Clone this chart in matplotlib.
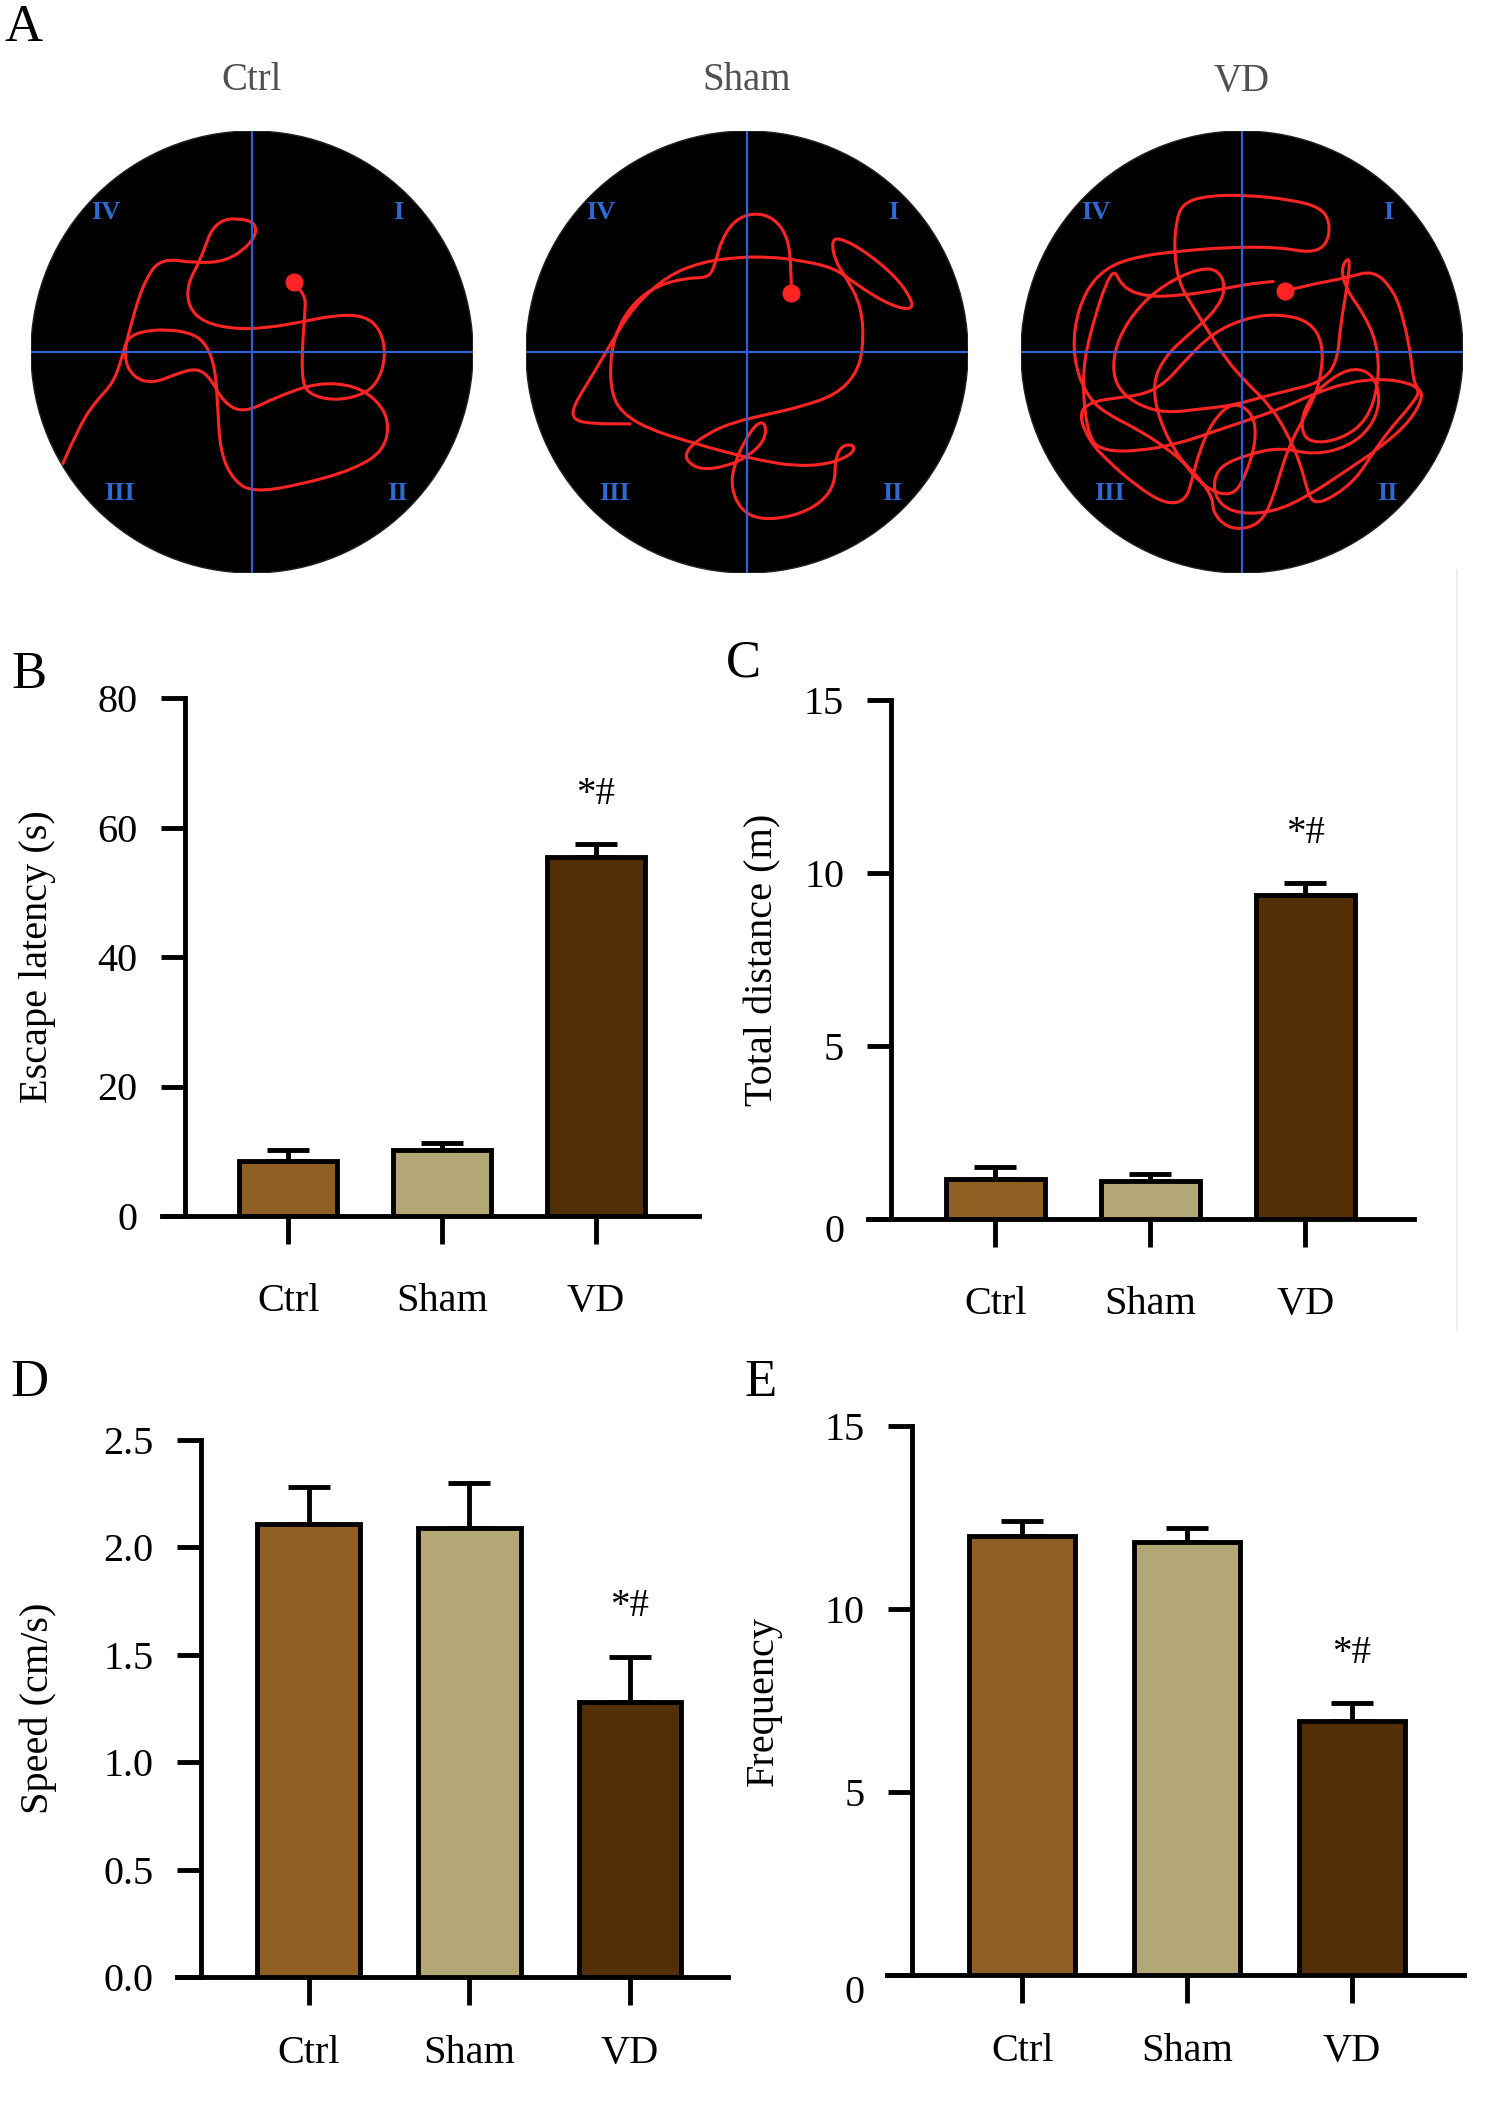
import matplotlib
matplotlib.use('Agg')
import matplotlib.pyplot as plt
from matplotlib.patches import Ellipse, PathPatch
from matplotlib.path import Path
import matplotlib.transforms as mtransforms
import numpy as np

plt.rcParams['font.family'] = ['Liberation Serif', 'DejaVu Serif']

W, H = 1499, 2106
fig = plt.figure(figsize=(W / 100, H / 100), dpi=100)

# ---------------- data ----------------
groups = ['Ctrl', 'Sham', 'VD']
bar_colors = ['#8E5E22', '#B3A775', '#542E07']

escape_mean = [8.5, 10.2, 55.5]
escape_err = [1.7, 1.0, 1.9]
distance_mean = [1.17, 1.10, 9.35]
distance_err = [0.33, 0.20, 0.36]
speed_mean = [2.11, 2.09, 1.28]
speed_err = [0.17, 0.21, 0.21]
freq_mean = [12.0, 11.84, 6.93]
freq_err = [0.40, 0.36, 0.50]
sig_label = '*#'

quadrants = ['IV', 'I', 'III', 'II']

# tracking trajectories in camera pixel coordinates (x, y), y downward
arena_ctrl = (755, 918, 660, 578)
track_ctrl = [(190, 1210), (240, 1110), (290, 1045), (340, 1000), (368, 930), (380, 885), (420, 865),
              (500, 858), (580, 870), (620, 900), (645, 960), (652, 1050), (660, 1180), (700, 1255),
              (760, 1285), (900, 1265), (1060, 1225), (1150, 1175), (1165, 1100), (1130, 1045),
              (1060, 1005), (950, 998), (830, 1035), (730, 1078), (670, 1050), (630, 985), (590, 960),
              (530, 975), (460, 1000), (400, 985), (370, 930), (395, 840), (430, 740), (480, 672),
              (590, 686), (680, 680), (745, 640), (772, 600), (750, 570), (645, 570), (600, 680),
              (562, 740), (565, 800), (610, 840), (700, 858), (800, 855), (900, 840), (1000, 822),
              (1090, 822), (1140, 860), (1155, 930), (1130, 1000), (1080, 1032), (1000, 1045),
              (930, 1030), (905, 1000), (905, 900), (915, 800), (912, 770), (880, 735)]

arena_sham = (738, 918, 658, 575)
track_sham = [(870, 765), (870, 700), (860, 620), (820, 570), (760, 555), (700, 575), (660, 630),
              (640, 700), (620, 725), (560, 725), (470, 745), (400, 790), (350, 860), (330, 940),
              (335, 1030), (370, 1080), (450, 1120), (560, 1150), (680, 1180), (780, 1200), (880, 1215),
              (980, 1210), (1050, 1185), (1060, 1160), (1020, 1160), (1000, 1200), (1000, 1260),
              (960, 1310), (880, 1345), (780, 1355), (720, 1330), (690, 1270), (700, 1210), (730, 1150),
              (770, 1100), (795, 1105), (790, 1150), (740, 1190), (680, 1215), (600, 1225), (555, 1200),
              (560, 1170), (620, 1130), (700, 1100), (800, 1080), (900, 1060), (1000, 1030), (1060, 980),
              (1085, 910), (1080, 800), (1030, 720), (1000, 680), (990, 630), (1010, 620), (1080, 650),
              (1180, 720), (1235, 790), (1220, 810), (1150, 790), (1060, 740), (1000, 700), (900, 680),
              (800, 670), (700, 672), (600, 685), (500, 720), (400, 800), (330, 900), (270, 990),
              (220, 1060), (220, 1095), (280, 1105), (390, 1105)]

arena_vd = (787, 920, 658, 580)
track_vd = [(915, 760), (980, 745), (1100, 725), (1180, 705), (1240, 760), (1270, 840), (1290, 930),
            (1300, 1010), (1330, 1030), (1290, 1100), (1200, 1170), (1100, 1230), (980, 1300), (880, 1340),
            (780, 1345), (720, 1320), (700, 1270), (720, 1220), (800, 1190), (900, 1170), (1000, 1190),
            (1100, 1170), (1170, 1120), (1200, 1050), (1180, 980), (1120, 960), (1050, 990), (980, 1050),
            (960, 1120), (990, 1160), (1080, 1150), (1160, 1100), (1195, 1000), (1190, 900), (1150, 820),
            (1100, 760), (1080, 700), (1110, 665), (1100, 750), (1080, 850), (1070, 950), (1020, 1000),
            (930, 1020), (840, 1040), (760, 1060), (660, 1070), (560, 1080), (480, 1060), (420, 1020),
            (400, 960), (420, 880), (480, 800), (560, 740), (660, 700), (720, 705), (740, 760), (700, 820),
            (620, 880), (560, 930), (520, 1000), (540, 1100), (600, 1200), (680, 1280), (760, 1300),
            (800, 1240), (830, 1150), (820, 1080), (760, 1050), (700, 1100), (660, 1180), (640, 1250),
            (620, 1310), (560, 1320), (470, 1270), (380, 1200), (330, 1150), (300, 1080), (340, 1050),
            (420, 1040), (500, 1030), (560, 1000), (620, 940), (700, 870), (800, 830), (900, 820),
            (990, 840), (1030, 900), (1020, 1000), (980, 1080), (930, 1160), (900, 1240), (880, 1300),
            (850, 1360), (800, 1385), (740, 1380), (700, 1340), (700, 1300), (640, 1230), (560, 1170),
            (470, 1120), (380, 1080), (330, 1040), (290, 960), (285, 860), (320, 760), (380, 700),
            (470, 670), (600, 655), (750, 645), (900, 645), (990, 660), (1040, 640), (1050, 580),
            (1020, 540), (930, 520), (800, 508), (680, 510), (610, 530), (590, 580), (585, 660),
            (600, 740), (640, 800), (690, 870), (740, 940), (800, 1000), (870, 1060), (920, 1130),
            (960, 1210), (980, 1280), (1000, 1320), (1060, 1300), (1130, 1250), (1180, 1180),
            (1230, 1120), (1290, 1060), (1320, 1020), (1280, 1000), (1200, 990), (1100, 1000),
            (1000, 1030), (900, 1070), (800, 1100), (700, 1130), (600, 1160), (480, 1180), (380, 1180),
            (330, 1150), (310, 1000), (330, 880), (400, 690), (430, 750), (500, 775), (600, 772),
            (700, 760), (800, 742), (880, 735)]


def px(x, y):
    return x / W, 1 - y / H


def smooth_track(pts):
    """Render a tracked path as a smooth quadratic Bezier path."""
    verts = [pts[0]]
    codes = [Path.MOVETO]
    for i in range(1, len(pts) - 1):
        mid = ((pts[i][0] + pts[i + 1][0]) / 2, (pts[i][1] + pts[i + 1][1]) / 2)
        verts += [pts[i], mid]
        codes += [Path.CURVE3, Path.CURVE3]
    verts.append(pts[-1])
    codes.append(Path.LINETO)
    return Path(verts, codes)


# ---------------- panel A ----------------
fig.text(*px(24, 28), 'A', fontsize=38, ha='center', va='center')

arenas = [
    ('Ctrl', 252, arena_ctrl, track_ctrl, -1),
    ('Sham', 747, arena_sham, track_sham, 0),
    ('VD', 1242, arena_vd, track_vd, 0),
]
R = 221
CY = 352
for name, cxp, arena, track, dot_idx in arenas:
    fig.text(*px(cxp, 81), name, fontsize=28, color='#505050', ha='center', va='center')
    ax = fig.add_axes([(cxp - R) / W, 1 - (CY + R) / H, 2 * R / W, 2 * R / H])
    cx, cy, rx, ry = arena
    ax.set_xlim(cx - rx, cx + rx)
    ax.set_ylim(cy + ry, cy - ry)
    ax.axis('off')
    circ = Ellipse((cx, cy), 2 * rx, 2 * ry, facecolor='black', edgecolor='#222222', lw=1)
    ax.add_patch(circ)
    ax.plot([cx, cx], [cy - ry, cy + ry], color='#2F5FD0', lw=1.6, clip_path=circ)
    ax.plot([cx - rx, cx + rx], [cy, cy], color='#2F5FD0', lw=1.6, clip_path=circ)
    pp = PathPatch(smooth_track(track), facecolor='none', edgecolor='#FF2424', lw=2.2,
                   joinstyle='round', capstyle='round')
    ax.add_patch(pp)
    pp.set_clip_path(circ)
    ax.plot(track[dot_idx][0], track[dot_idx][1], 'o', color='#FF2424', ms=12, mec='#FF2424')
    qpos = [(0.17, 0.815), (0.83, 0.815), (0.20, 0.18), (0.83, 0.18)]
    for q, (qx, qy) in zip(quadrants, qpos):
        ax.text(qx, qy, q, transform=ax.transAxes, color='#2E6AD0', fontsize=19,
                fontweight='bold', ha='center', va='center')


# ---------------- bar panels ----------------
LW = 3.5
FS = 29


def bar_panel(left, top, right, bottom, xmax, means, errs, ymax, yticks, yticklabels,
              ylabel, letter, letter_xy, ylabel_x, xpad, zero_shift=0):
    ax = fig.add_axes([left / W, 1 - bottom / H, (right - left) / W, (bottom - top) / H])
    x = np.arange(len(groups))
    ax.bar(x, means, width=0.64, color=bar_colors, edgecolor='black', linewidth=LW, zorder=3)
    ax.errorbar(x, means, yerr=[np.zeros(len(groups)), errs], fmt='none', ecolor='black',
                elinewidth=LW, capsize=15, capthick=LW, zorder=2)
    ax.set_xlim(-0.82, xmax)
    ax.set_ylim(0, ymax)
    ax.spines['top'].set_visible(False)
    ax.spines['right'].set_visible(False)
    ax.spines['left'].set_position(('data', -0.67))
    ax.spines['left'].set_bounds(0, ymax)
    for s in ('left', 'bottom'):
        ax.spines[s].set_linewidth(LW)
        ax.spines[s].set_capstyle('projecting')
    ax.set_xticks(x)
    ax.set_xticklabels(groups)
    ax.set_yticks(yticks)
    ax.set_yticklabels(yticklabels)
    ax.tick_params(axis='y', direction='out', length=17, width=LW, pad=17, labelsize=FS,
                   colors='black')
    ax.tick_params(axis='x', direction='out', length=20, width=LW, pad=xpad, labelsize=FS)
    ax.set_ylabel(ylabel, fontsize=FS, va='center')
    ax.yaxis.set_label_coords((ylabel_x - left) / (right - left), 0.5)
    ax.annotate(sig_label, (2, means[2] + errs[2]), xytext=(0, 36), textcoords='offset points',
                ha='center', va='center', fontsize=28)
    ax.patch.set_alpha(0)
    if zero_shift:
        lab0 = ax.yaxis.get_major_ticks()[0].label1
        lab0.set_transform(lab0.get_transform() +
                           mtransforms.ScaledTranslation(0, -zero_shift / 100, fig.dpi_scale_trans))
    fig.text(*px(*letter_xy), letter, fontsize=38, ha='center', va='center')
    return ax


bar_panel(162, 698, 699, 1216, 2.67, escape_mean, escape_err, 80, [0, 20, 40, 60, 80],
          ['0', '20', '40', '60', '80'], 'Escape latency (s)', 'B', (29, 675), 38, 28)
bar_panel(868, 700, 1414, 1219, 2.70, distance_mean, distance_err, 15, [0, 5, 10, 15],
          ['0', '5', '10', '15'], 'Total distance (m)', 'C', (743, 663), 763, 28, zero_shift=9)
bar_panel(177, 1440, 728, 1977, 2.61, speed_mean, speed_err, 2.5, [0, 0.5, 1.0, 1.5, 2.0, 2.5],
          ['0.0', '0.5', '1.0', '1.5', '2.0', '2.5'], 'Speed (cm/s)', 'D', (30, 1383), 38, 22)
bar_panel(887, 1426, 1464, 1975, 2.68, freq_mean, freq_err, 15, [0, 5, 10, 15],
          ['0', '5', '10', '15'], 'Frequency', 'E', (761, 1383), 763, 22, zero_shift=14)

# faint separator line seen at the right edge of panel C
fig.add_artist(plt.Line2D([1457 / W, 1457 / W], [1 - 1330 / H, 1 - 570 / H],
                          color='#ececec', lw=1.5, transform=fig.transFigure))

fig.savefig('out.png', dpi=100)
